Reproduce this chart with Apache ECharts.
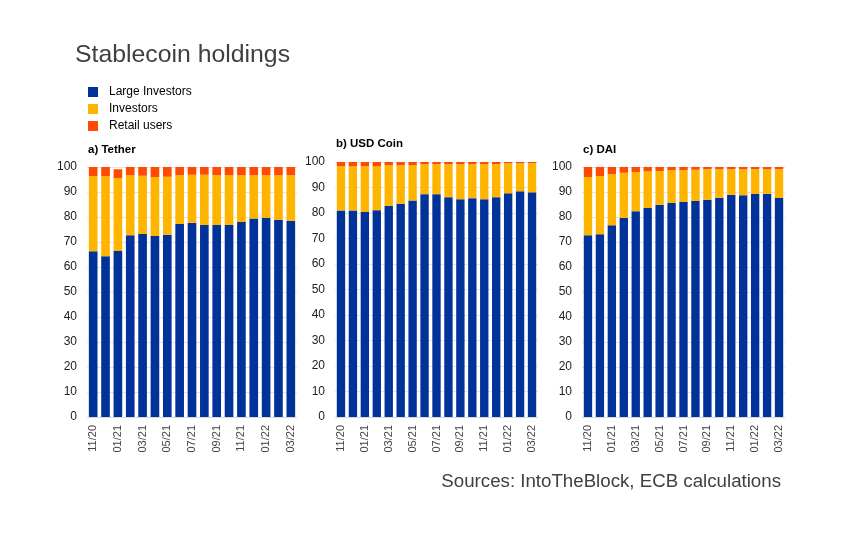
<!DOCTYPE html>
<html>
<head>
<meta charset="utf-8">
<script src="https://cdn.jsdelivr.net/npm/echarts@6/dist/echarts.min.js"></script>
<style>html,body{margin:0;padding:0;background:#fff}#c{width:850px;height:537px}</style>
</head>
<body>
<div id="c"></div>
<script>
var categories = ['11/20','12/20','01/21','02/21','03/21','04/21','05/21','06/21','07/21','08/21','09/21','10/21','11/21','12/21','01/22','02/22','03/22'];
var yTicks = [0,10,20,30,40,50,60,70,80,90,100];

var tetherLarge     = [66.3,64.3,66.4,72.7,73.2,72.4,72.9,77.2,77.7,76.8,76.8,76.8,78.0,79.4,79.6,78.8,78.5];
var tetherInvestors = [30.1,32.0,29.2,24.0,23.3,23.6,23.2,19.5,19.2,20.1,19.9,19.9,18.7,17.3,17.1,17.9,18.2];
var tetherRetail    = [3.6,3.7,3.5,3.3,3.5,4.0,3.9,3.3,3.1,3.1,3.3,3.3,3.3,3.3,3.3,3.3,3.3];

var usdcLarge       = [81.0,81.0,80.4,81.1,82.8,83.6,84.9,87.4,87.4,86.2,85.4,85.8,85.4,86.2,87.7,88.5,88.1];
var usdcInvestors   = [17.3,17.3,17.9,17.2,15.9,15.1,13.8,11.7,11.7,12.9,13.7,13.3,13.7,12.9,11.8,11.0,11.4];
var usdcRetail      = [1.7,1.7,1.7,1.7,1.3,1.3,1.3,0.9,0.9,0.9,0.9,0.9,0.9,0.9,0.5,0.5,0.5];

var daiLarge        = [72.7,73.1,76.7,79.6,82.3,83.6,84.9,85.6,86.0,86.4,86.9,87.7,88.9,88.7,89.2,89.3,87.6];
var daiInvestors    = [23.3,23.3,20.4,18.1,15.7,14.7,13.5,13.1,12.7,12.5,12.2,11.4,10.2,10.4,9.9,9.8,11.5];
var daiRetail       = [4.0,3.6,2.9,2.3,2.0,1.7,1.6,1.3,1.3,1.1,0.9,0.9,0.9,0.9,0.9,0.9,0.9];

var seriesNames = ['Large Investors','Investors','Retail users'];
var panelTitles = ['a) Tether','b) USD Coin','c) DAI'];
var panels = [
  [tetherLarge, tetherInvestors, tetherRetail],
  [usdcLarge, usdcInvestors, usdcRetail],
  [daiLarge, daiInvestors, daiRetail]
];

var colors = ['#003299','#ffb400','#ff4b00'];
var FONT = '"Liberation Sans", Arial, sans-serif';
var grids = [
  {left:87, top:167, width:210, height:250},
  {left:335, top:162, width:203, height:255},
  {left:582, top:167, width:203, height:250}
];
var titleTops = [151, 145, 151];

var xAxes = [], yAxes = [], series = [], graphics = [];
grids.forEach(function(g, i){
  xAxes.push({
    type:'category', gridIndex:i, data:categories,
    axisLine:{show:true, lineStyle:{color:'#d9d9d9'}},
    axisTick:{show:false},
    axisLabel:{interval:1, rotate:90, fontSize:11, color:'#444', fontFamily:FONT, margin:8}
  });
  yAxes.push({
    type:'value', gridIndex:i, min:yTicks[0], max:yTicks[yTicks.length-1], interval:10,
    axisLine:{show:false}, axisTick:{show:false},
    splitLine:{lineStyle:{color:'#e3e3e3'}},
    axisLabel:{fontSize:12, color:'#222', fontFamily:FONT, margin:10}
  });
  panels[i].forEach(function(arr, k){
    series.push({
      name:seriesNames[k], type:'bar', stack:'s'+i, xAxisIndex:i, yAxisIndex:i,
      data:arr, barCategoryGap:'30%', itemStyle:{color:colors[k]}, animation:false
    });
  });
  graphics.push({
    type:'text', left:g.left+1, top:titleTops[i]-7,
    style:{text:panelTitles[i], font:'bold 11.5px '+FONT, fill:'#000'}
  });
});

graphics.push({type:'text', left:75, top:43,
  style:{text:'Stablecoin holdings', font:'24.8px '+FONT, fill:'#404040'}});
graphics.push({type:'text', right:69, top:472,
  style:{text:'Sources: IntoTheBlock, ECB calculations', font:'18.7px '+FONT, fill:'#404040'}});

var chart = echarts.init(document.getElementById('c'));
chart.setOption({
  animation:false,
  backgroundColor:'#fff',
  legend:{
    data:seriesNames, orient:'vertical', left:88, top:86, padding:0,
    itemWidth:10, itemHeight:10, itemGap:5, icon:'rect',
    textStyle:{fontSize:12, color:'#000', fontFamily:FONT, padding:[0,0,0,6]}
  },
  grid:grids,
  xAxis:xAxes,
  yAxis:yAxes,
  series:series,
  graphic:graphics
});
</script>
</body>
</html>
